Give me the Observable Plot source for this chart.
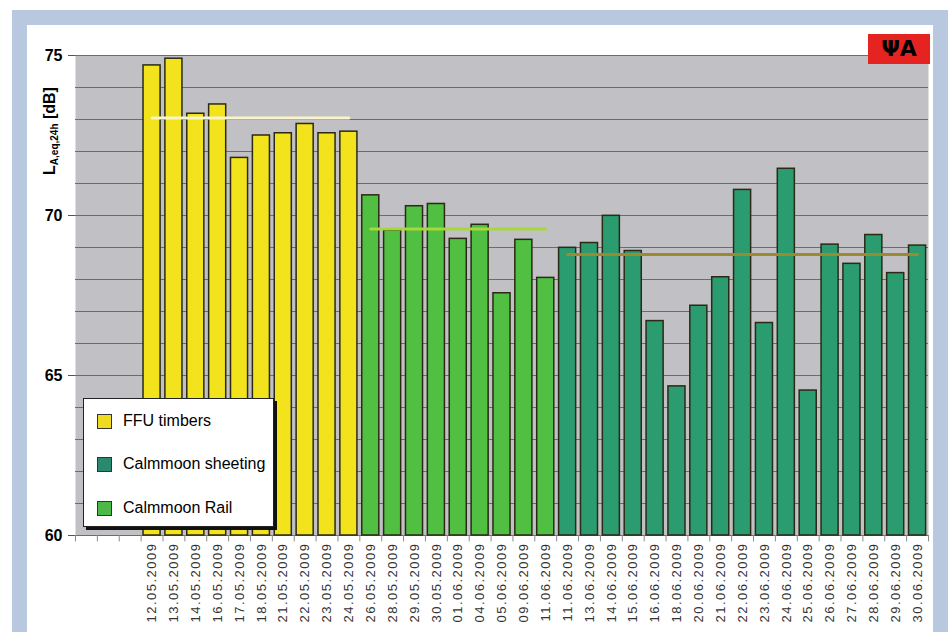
<!DOCTYPE html>
<html><head><meta charset="utf-8">
<script src="https://cdn.jsdelivr.net/npm/d3@7"></script>
<script src="https://cdn.jsdelivr.net/npm/@observablehq/plot@0.6"></script>
<style>
html,body{margin:0;padding:0;background:#fff;}
#wrap{position:relative;width:950px;height:632px;overflow:hidden;font-family:"Liberation Sans",Arial,sans-serif;}
#frame{position:absolute;left:12px;top:10px;width:936px;height:660px;background:#b8c8df;}
#panel{position:absolute;left:27px;top:25px;width:906px;height:660px;background:#fff;}
#chart{position:absolute;left:0;top:0;}
#chart [aria-label="x-axis tick label"]{letter-spacing:1.5px;}
#ylabel{position:absolute;left:50px;top:131px;transform:translate(-50%,-50%) rotate(-90deg);font-weight:bold;font-size:16px;white-space:nowrap;color:#000;}
#ylabel sub{font-size:10px;vertical-align:-3px;}
#legend{position:absolute;left:83px;top:398px;width:189px;height:127px;background:#fff;border:1.5px solid #222;box-shadow:3px 3px 0 #111;}
.item{position:absolute;left:13px;height:20px;display:flex;align-items:center;font-size:16px;color:#000;}
.sw{width:13px;height:13px;border:1.5px solid #333;margin-right:11px;}
#logo{position:absolute;left:868px;top:34px;width:62px;height:30px;background:#e52421;color:#000;font-weight:bold;font-size:22px;line-height:30px;text-align:center;font-family:"DejaVu Sans",sans-serif;}
</style>
</head><body>
<div id="wrap">
  <div id="frame"></div>
  <div id="panel"></div>
  <div id="chart"></div>
  <div id="ylabel">L<sub>A,eq,24h</sub> [dB]</div>
  <div id="legend"></div>
  <div id="logo">ΨA</div>
</div>
<script>
// ---- data ----
const emptySlots = ["", "", ""]; // unlabeled category slots at the start of the axis
const ffuDates = ["12.05.2009","13.05.2009","14.05.2009","16.05.2009","17.05.2009","18.05.2009","21.05.2009","22.05.2009","23.05.2009","24.05.2009"];
const ffuValues = [74.69,74.90,73.18,73.47,71.80,72.50,72.57,72.86,72.57,72.62];
const railDates = ["26.05.2009","28.05.2009","29.05.2009","30.05.2009","01.06.2009","04.06.2009","05.06.2009","09.06.2009","11.06.2009"];
const railValues = [70.63,69.53,70.29,70.36,69.27,69.71,67.57,69.24,68.05];
const sheetDates = ["11.06.2009","13.06.2009","14.06.2009","15.06.2009","16.06.2009","18.06.2009","20.06.2009","21.06.2009","22.06.2009","23.06.2009","24.06.2009","25.06.2009","26.06.2009","27.06.2009","28.06.2009","29.06.2009","30.06.2009"];
const sheetValues = [68.99,69.14,69.99,68.89,66.70,64.66,67.18,68.07,70.80,66.64,71.46,64.53,69.09,68.49,69.39,68.20,69.06];
const ffuMean = 73.05, railMean = 69.58, sheetMean = 68.78;
const seriesNames = ["FFU timbers","Calmmoon sheeting","Calmmoon Rail"];
const seriesColors = ["#f2e31c","#2b9b70","#50bf42"];
const legendColors = ["#efdc22","#2a8a70","#4cb848"];
const meanColors = {"FFU timbers":"#f7f5c9","Calmmoon Rail":"#a6d83c","Calmmoon sheeting":"#9c8a30"};
const yDomain = [60, 75];
const yTicks = [60, 65, 70, 75];
const gridValues = [60,61,62,63,64,65,66,67,68,69,70,71,72,73,74,75];

// ---- build ----
const axisLabels = [...emptySlots, ...ffuDates, ...railDates, ...sheetDates];
const groups = [
  {name: "FFU timbers", values: ffuValues, mean: ffuMean},
  {name: "Calmmoon Rail", values: railValues, mean: railMean},
  {name: "Calmmoon sheeting", values: sheetValues, mean: sheetMean}
];
const bars = [], means = [];
let s = emptySlots.length;
for (const g of groups) {
  g.values.forEach((v, j) => bars.push({slot: s + j, series: g.name, value: v}));
  means.push({series: g.name, pts: [{slot: s, value: g.mean}, {slot: s + g.values.length - 1, value: g.mean}]});
  s += g.values.length;
}
const slots = axisLabels.map((_, i) => i);

const W = 950, H = 632, mL = 75, mR = 22, mT = 55, mB = 97;
const step = (W - mL - mR) / axisLabels.length;

const chart = Plot.plot({
  width: W, height: H, marginLeft: mL, marginRight: mR, marginTop: mT, marginBottom: mB,
  style: {background: "transparent", fontFamily: "'Liberation Sans', Arial, sans-serif", color: "#000"},
  x: {type: "band", domain: slots, paddingInner: 0.22, paddingOuter: 0.11, axis: null},
  y: {domain: yDomain, axis: null},
  color: {domain: seriesNames, range: seriesColors},
  marks: [
    Plot.frame({fill: "#c1c0c5", stroke: "none"}),
    Plot.gridY(gridValues, {stroke: "#6c6c6c", strokeOpacity: 1, strokeWidth: 1}),
    Plot.ruleX(slots, {x: d => d, y1: () => yDomain[0], y2: () => yDomain[0] - 0.2, dx: step / 2, stroke: "#8a8a8a"}),
    Plot.ruleX([0], {x: d => d, y1: () => yDomain[0], y2: () => yDomain[0] - 0.2, dx: -step / 2, stroke: "#8a8a8a"}),
    Plot.barY(bars, {x: "slot", y1: () => yDomain[0], y2: "value", fill: "series", stroke: "#2a2a16", strokeWidth: 1.5}),
    ...means.map(m => Plot.line(m.pts, {x: "slot", y: "value", stroke: meanColors[m.series], strokeWidth: 3})),
    Plot.axisY({ticks: yTicks, tickSize: 7, tickPadding: 6, fontSize: 16, fontWeight: "bold", label: null, stroke: "#555"}),
    Plot.axisX({tickSize: 0, tickRotate: -90, tickPadding: 7, tickFormat: i => axisLabels[i], fontSize: 13, label: null, fill: "#333"})
  ]
});
document.getElementById("chart").appendChild(chart);

// legend
const legend = document.getElementById("legend");
const rowTops = [12, 55, 99];
seriesNames.forEach((n, i) => {
  const it = document.createElement("div");
  it.className = "item";
  it.style.top = rowTops[i] + "px";
  it.innerHTML = `<span class="sw" style="background:${legendColors[i]}"></span><span>${n}</span>`;
  legend.appendChild(it);
});
</script>
</body></html>
